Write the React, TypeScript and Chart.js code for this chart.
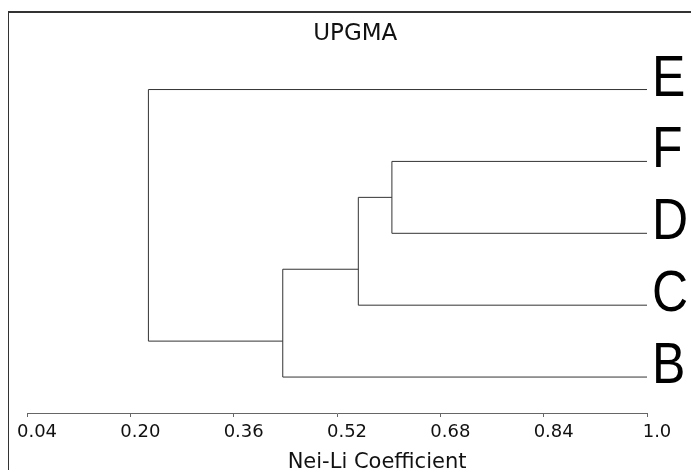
import React, { useEffect, useRef } from 'react';
import { Chart, registerables } from 'chart.js';

Chart.register(...registerables);

// ---- Data ----
const leafLabels = ['E', 'F', 'D', 'C', 'B'];
const leafY = [4, 3, 2, 1, 0];
const leafStartX = [0.228, 0.605, 0.605, 0.553, 0.436];
const leafEndX = 1.0;
const mergeX = [0.605, 0.553, 0.436, 0.228];
const mergeYLow = [2, 1, 0, 0.5];
const mergeYHigh = [3, 2.5, 1.5, 4];
const linkY = [2.5, 1.5, 0.5];
const tickValues = [0.04, 0.2, 0.36, 0.52, 0.68, 0.84, 1.0];
const tickLabels = ['0.04', '0.20', '0.36', '0.52', '0.68', '0.84', '1.0'];
const chartTitle = 'UPGMA';
const axisTitle = 'Nei-Li Coefficient';

const LINE_COLOR = '#333';
const FONT = '"DejaVu Sans", Verdana, sans-serif';

function buildSegments() {
  const segs: { x: number; y: number }[][] = [];
  leafLabels.forEach((_, i) => {
    segs.push([
      { x: leafStartX[i], y: leafY[i] },
      { x: leafEndX, y: leafY[i] },
    ]);
  });
  mergeX.forEach((mx, i) => {
    segs.push([
      { x: mx, y: mergeYLow[i] },
      { x: mx, y: mergeYHigh[i] },
    ]);
  });
  linkY.forEach((ly, i) => {
    segs.push([
      { x: mergeX[i], y: ly },
      { x: mergeX[i + 1], y: ly },
    ]);
  });
  return segs;
}

const leafLabelPlugin = {
  id: 'leafLabels',
  afterDraw(chart: any) {
    const { ctx, scales } = chart;
    const x = scales.x;
    const y = scales.y;
    ctx.save();
    ctx.font = '50px "Liberation Sans", Arial, sans-serif';
    ctx.fillStyle = '#000';
    ctx.textAlign = 'left';
    ctx.textBaseline = 'alphabetic';
    leafLabels.forEach((lab, i) => {
      const px = x.getPixelForValue(leafEndX) + 5;
      const py = y.getPixelForValue(leafY[i]) + 6;
      ctx.save();
      ctx.translate(px, py);
      ctx.scale(1, 1.13);
      ctx.fillText(lab, 0, 0);
      ctx.restore();
    });
    ctx.restore();
  },
};

export default function App() {
  const canvasRef = useRef<HTMLCanvasElement | null>(null);

  useEffect(() => {
    document.body.style.overflow = 'hidden';
    const canvas = canvasRef.current;
    if (!canvas) return;
    const segs = buildSegments();
    const chart = new Chart(canvas, {
      type: 'scatter',
      data: {
        datasets: segs.map((s) => ({
          data: s,
          showLine: true,
          borderColor: LINE_COLOR,
          backgroundColor: LINE_COLOR,
          borderWidth: 1,
          pointRadius: 0,
          pointHoverRadius: 0,
          fill: false,
        })),
      },
      options: {
        responsive: false,
        animation: false,
        events: [],
        layout: { padding: { left: 18, right: 52, top: 0, bottom: 0 } },
        plugins: {
          legend: { display: false },
          tooltip: { enabled: false },
          title: {
            display: true,
            text: '     ' + chartTitle,
            color: '#111',
            font: { family: FONT, size: 23, weight: 'normal', lineHeight: 1.2 },
            padding: { top: 7, bottom: 6 },
          },
        },
        scales: {
          x: {
            type: 'linear',
            min: 0.04,
            max: 1.0,
            afterBuildTicks: (s: any) => {
              s.ticks = tickValues.map((v) => ({ value: v }));
            },
            afterFit: (s: any) => {
              s.paddingLeft = 0;
              s.paddingRight = 0;
              s.height = 60;
            },
            ticks: {
              callback: (_v: any, i: number) => tickLabels[i],
              color: '#111',
              font: { family: FONT, size: 18 },
              padding: 5,
              labelOffset: 10,
              maxRotation: 0,
              autoSkip: false,
            },
            grid: {
              display: true,
              drawOnChartArea: false,
              drawTicks: true,
              tickLength: 4,
              tickColor: '#666',
              color: '#666',
            },
            border: { display: true, color: '#666', width: 1 },
            title: {
              display: true,
              text: '            ' + axisTitle,
              color: '#111',
              font: { family: FONT, size: 21, lineHeight: 1 },
              padding: { top: 0, bottom: 0 },
            },
          },
          y: {
            type: 'linear',
            min: -0.5,
            max: 4.5,
            display: false,
          },
        },
      },
      plugins: [leafLabelPlugin],
    } as any);
    return () => {
      chart.destroy();
    };
  }, []);

  return (
    <div
      style={{
        position: 'relative',
        left: -1,
        top: 3,
        width: 690,
        height: 460,
        borderTop: '2px solid #333',
        borderLeft: '2px solid #333',
      }}
    >
      <canvas ref={canvasRef} width={690} height={460} style={{ display: 'block' }} />
    </div>
  );
}
